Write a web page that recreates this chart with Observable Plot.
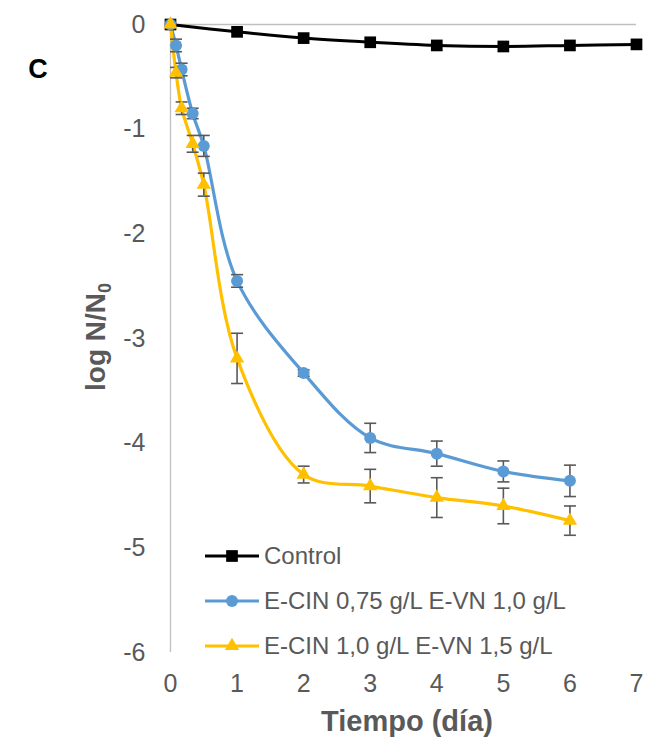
<!DOCTYPE html>
<html>
<head>
<meta charset="utf-8">
<script src="https://cdn.jsdelivr.net/npm/d3@7"></script>
<script src="https://cdn.jsdelivr.net/npm/@observablehq/plot@0.6"></script>
<style>
  html, body { margin: 0; padding: 0; background: #fff; }
  #chart svg { font-family: "Liberation Sans", Arial, sans-serif; }
</style>
</head>
<body>
<div id="chart"></div>
<script>
// ---- data ----
const seriesNames = ["Control", "E-CIN 0,75 g/L E-VN 1,0 g/L", "E-CIN 1,0 g/L E-VN 1,5 g/L"];
const controlTimes = [0, 1, 2, 3, 4, 5, 6, 7];
const controlValues = [0, -0.07, -0.13, -0.17, -0.2, -0.21, -0.2, -0.19];
const treatTimes = [0, 0.083, 0.167, 0.333, 0.5, 1, 2, 3, 4, 5, 6];
const blueValues = [0, -0.2, -0.43, -0.85, -1.16, -2.45, -3.33, -3.95, -4.1, -4.27, -4.36];
const blueErr = [0, 0.06, 0.06, 0.05, 0.1, 0.06, 0.03, 0.14, 0.12, 0.1, 0.15];
const yellowValues = [0, -0.46, -0.8, -1.14, -1.53, -3.19, -4.3, -4.41, -4.52, -4.6, -4.74];
const yellowErr = [0, 0.05, 0.06, 0.08, 0.11, 0.24, 0.08, 0.16, 0.19, 0.17, 0.14];
const xTicks = [0, 1, 2, 3, 4, 5, 6, 7];
const yTicks = [0, -1, -2, -3, -4, -5, -6];
const colors = ["#000000", "#5b9bd5", "#ffc000"];
const symbols = ["square", "circle", "triangle"];

const control = controlTimes.map((t, i) => ({t, v: controlValues[i]}));
const blue = treatTimes.map((t, i) => ({t, v: blueValues[i], e: blueErr[i]}));
const yellow = treatTimes.map((t, i) => ({t, v: yellowValues[i], e: yellowErr[i]}));
const errs = [...blue, ...yellow].filter(d => d.e > 0);

const capSymbol = { draw(ctx, size) { const w = 6; ctx.moveTo(-w, 0); ctx.lineTo(w, 0); } };
const errColor = "#595959";
const rSq = 6.6, rCi = 6, rTri = 5.3;

const plot = Plot.plot({
  width: 649,
  height: 747,
  marginLeft: 170,
  marginRight: 13,
  marginTop: 24,
  marginBottom: 95,
  style: { fontFamily: "Liberation Sans, Arial, sans-serif", fontSize: "25px", color: "#595959", background: "#fff" },
  x: { domain: [0, 7], ticks: xTicks, tickSize: 0, tickPadding: 22, label: null, tickFormat: d => String(d) },
  y: { domain: [-6, 0], ticks: yTicks, tickSize: 0, tickPadding: 25, label: null, tickFormat: d => String(d) },
  marks: [
    Plot.ruleY([0], { stroke: "#bfbfbf", strokeWidth: 1.3 }),
    Plot.ruleX([0], { stroke: "#bfbfbf", strokeWidth: 1.3 }),
    Plot.line(control, { x: "t", y: "v", stroke: colors[0], strokeWidth: 3, curve: "catmull-rom" }),
    Plot.line(blue, { x: "t", y: "v", stroke: colors[1], strokeWidth: 3.2, curve: "catmull-rom" }),
    Plot.line(yellow, { x: "t", y: "v", stroke: colors[2], strokeWidth: 3.2, curve: "catmull-rom" }),
    Plot.ruleX(errs, { x: "t", y1: d => d.v - d.e, y2: d => d.v + d.e, stroke: errColor, strokeWidth: 1.6 }),
    Plot.dot(errs, { x: "t", y: d => d.v - d.e, symbol: capSymbol, r: 6, fill: "none", stroke: errColor, strokeWidth: 1.6 }),
    Plot.dot(errs, { x: "t", y: d => d.v + d.e, symbol: capSymbol, r: 6, fill: "none", stroke: errColor, strokeWidth: 1.6 }),
    Plot.dot(control, { x: "t", y: "v", symbol: "square", r: rSq, fill: colors[0], stroke: "none" }),
    Plot.dot(blue, { x: "t", y: "v", symbol: "circle", r: rCi, fill: colors[1], stroke: "none" }),
    Plot.dot(yellow, { x: "t", y: "v", symbol: "triangle", r: rTri, fill: colors[2], stroke: "none" })
  ]
});
document.getElementById("chart").appendChild(plot);

// ---- titles, panel letter and legend ----
const svg = d3.select(plot);
const ns = "#595959";
const yt = svg.append("text")
  .attr("transform", "translate(105,337) rotate(-90)")
  .attr("text-anchor", "middle")
  .attr("font-size", 28).attr("font-weight", "bold").attr("fill", ns);
yt.append("tspan").text("log N/N");
yt.append("tspan").text("0").attr("font-size", 18).attr("dy", 6);

svg.append("text").attr("x", 407).attr("y", 731).attr("text-anchor", "middle")
  .attr("font-size", 29).attr("font-weight", "bold").attr("fill", ns).text("Tiempo (día)");

svg.append("text").attr("x", 38).attr("y", 78).attr("text-anchor", "middle")
  .attr("font-size", 27).attr("font-weight", "bold").attr("fill", "#000").text("C");

const legY = [556, 601, 646];
const legSyms = [d3.symbolSquare, d3.symbolCircle, d3.symbolTriangle];
const legR = [rSq, rCi, rTri];
seriesNames.forEach((name, i) => {
  const g = svg.append("g");
  g.append("line").attr("x1", 205).attr("x2", 259).attr("y1", legY[i]).attr("y2", legY[i])
    .attr("stroke", colors[i]).attr("stroke-width", 3);
  g.append("path").attr("d", d3.symbol(legSyms[i], legR[i] * legR[i] * Math.PI)())
    .attr("transform", `translate(232,${legY[i]})`)
    .attr("fill", colors[i]);
  g.append("text").attr("x", 264).attr("y", legY[i]).attr("dy", "0.35em")
    .attr("text-anchor", "start")
    .attr("font-size", 24).attr("fill", ns).text(name);
});
</script>
</body>
</html>
